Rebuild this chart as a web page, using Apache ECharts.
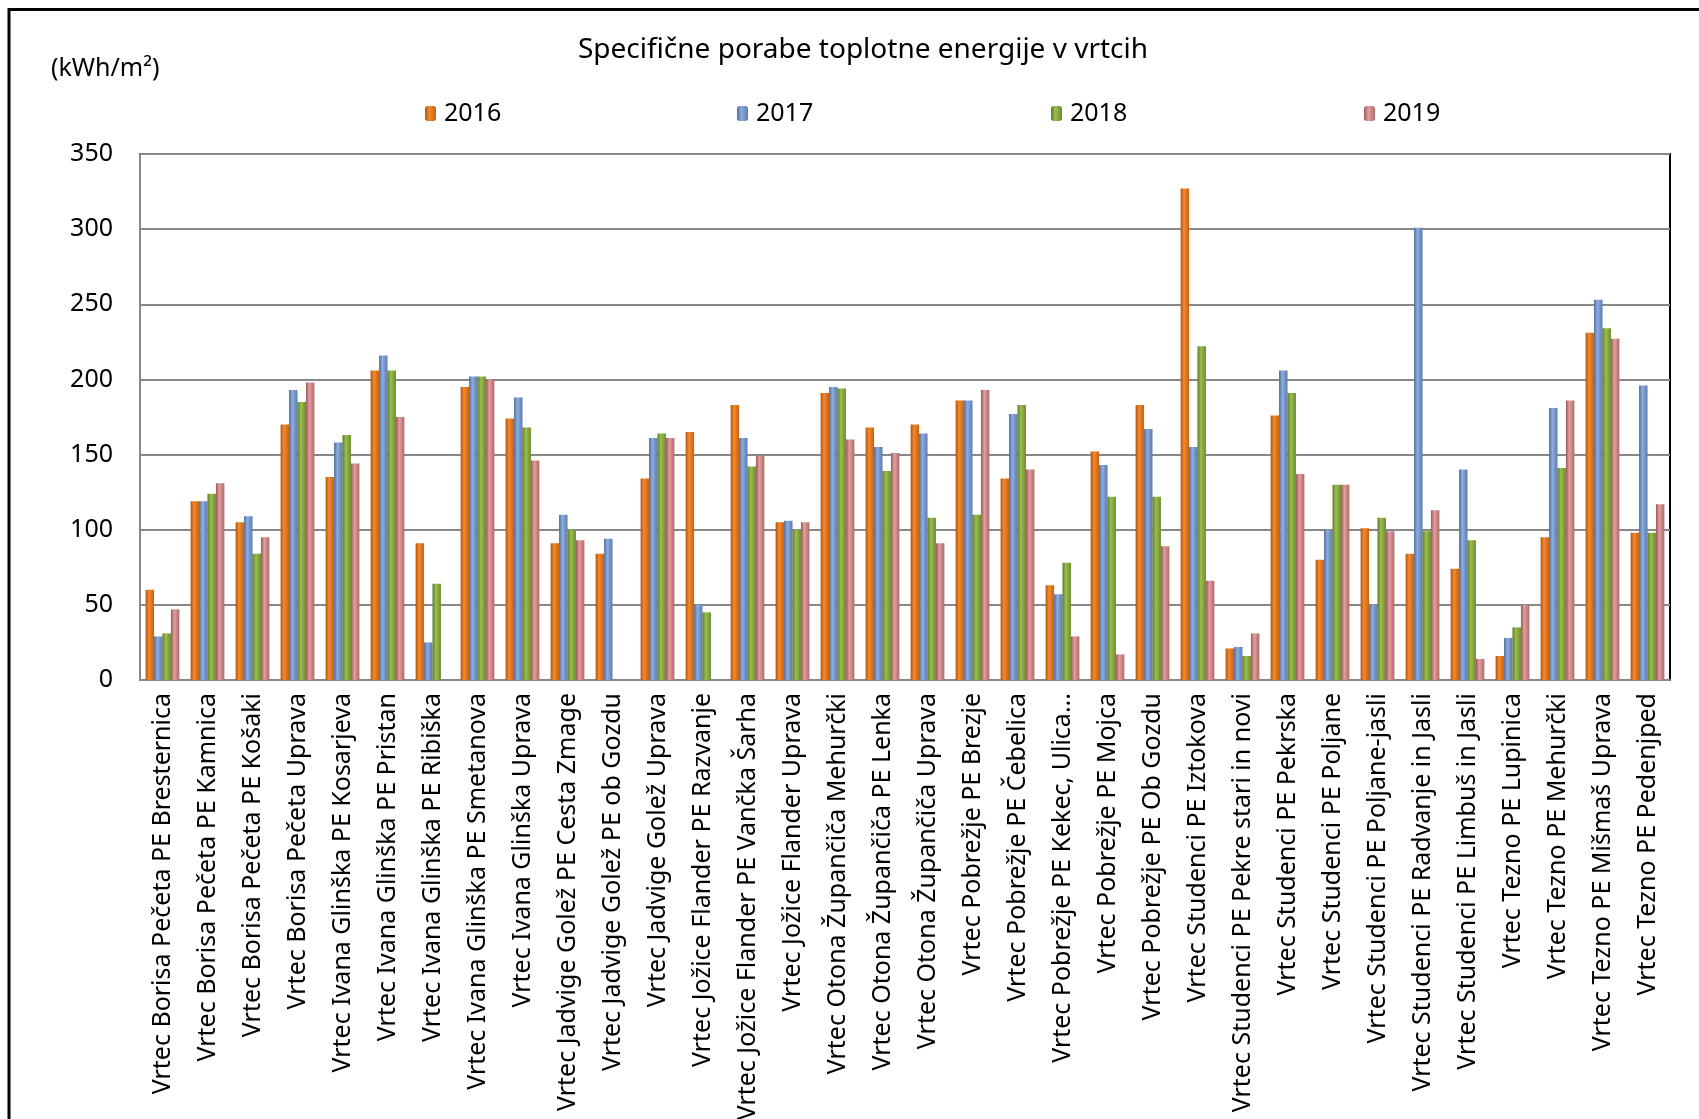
<!DOCTYPE html>
<html>
<head>
<meta charset="utf-8">
<script src="https://cdn.jsdelivr.net/npm/echarts@6/dist/echarts.min.js"></script>
<style>
html,body{margin:0;padding:0;background:#fff;}
#chart{width:1699px;height:1119px;}
</style>
</head>
<body>
<div id="chart"></div>
<script>
const categories = [
  "Vrtec Borisa Pečeta PE Bresternica",
  "Vrtec Borisa Pečeta PE Kamnica",
  "Vrtec Borisa Pečeta PE Košaki",
  "Vrtec Borisa Pečeta Uprava",
  "Vrtec Ivana Glinška PE Kosarjeva",
  "Vrtec Ivana Glinška PE Pristan",
  "Vrtec Ivana Glinška PE Ribiška",
  "Vrtec Ivana Glinška PE Smetanova",
  "Vrtec Ivana Glinška Uprava",
  "Vrtec Jadvige Golež PE Cesta Zmage",
  "Vrtec Jadvige Golež PE ob Gozdu",
  "Vrtec Jadvige Golež Uprava",
  "Vrtec Jožice Flander PE Razvanje",
  "Vrtec Jožice Flander PE Vančka Šarha",
  "Vrtec Jožice Flander Uprava",
  "Vrtec Otona Župančiča Mehurčki",
  "Vrtec Otona Župančiča PE Lenka",
  "Vrtec Otona Župančiča Uprava",
  "Vrtec Pobrežje PE Brezje",
  "Vrtec Pobrežje PE Čebelica",
  "Vrtec Pobrežje PE Kekec, Ulica...",
  "Vrtec Pobrežje PE Mojca",
  "Vrtec Pobrežje PE Ob Gozdu",
  "Vrtec Studenci PE Iztokova",
  "Vrtec Studenci PE Pekre stari in novi",
  "Vrtec Studenci PE Pekrska",
  "Vrtec Studenci PE Poljane",
  "Vrtec Studenci PE Poljane-jasli",
  "Vrtec Studenci PE Radvanje in Jasli",
  "Vrtec Studenci PE Limbuš in Jasli",
  "Vrtec Tezno PE Lupinica",
  "Vrtec Tezno PE Mehurčki",
  "Vrtec Tezno PE Mišmaš Uprava",
  "Vrtec Tezno PE Pedenjped"
];
const seriesNames = ["2016", "2017", "2018", "2019"];
const v2016 = [60,119,105,170,135,206,91,195,174,91,84,134,165,183,105,191,168,170,186,134,63,152,183,327,21,176,80,101,84,74,16,95,231,98];
const v2017 = [29,119,109,193,158,216,25,202,188,110,94,161,50,161,106,195,155,164,186,177,57,143,167,155,22,206,100,50,301,140,28,181,253,196];
const v2018 = [31,124,84,185,163,206,64,202,168,100,null,164,45,142,100,194,139,108,110,183,78,122,122,222,16,191,130,108,99,93,35,141,234,98];
const v2019 = [47,131,95,198,144,175,null,200,146,93,null,161,null,149,105,160,151,91,193,140,29,17,89,66,31,137,130,99,113,14,50,186,227,117];
const yTicks = { min: 0, max: 350, interval: 50 };
const titleText = "Specifične porabe toplotne energije v vrtcih";
const unitText = "(kWh/m²)";

const palette = [
  ["#B5520C", "#F28A2E", "#C9600F"],
  ["#4D6B9E", "#8FADDC", "#5A7AB0"],
  ["#5C7A22", "#9CBF50", "#6B8B2C"],
  ["#9C5656", "#E0A0A0", "#B26868"]
];
function grad(p) {
  return new echarts.graphic.LinearGradient(0, 0, 1, 0, [
    { offset: 0, color: p[0] },
    { offset: 0.4, color: p[1] },
    { offset: 1, color: p[2] }
  ]);
}
const allValues = [v2016, v2017, v2018, v2019];
const legendX = [425, 737, 1051, 1364];
const font = "Noto Sans";

const chart = echarts.init(document.getElementById('chart'), null, { renderer: 'canvas' });
chart.setOption({
  backgroundColor: '#ffffff',
  animation: false,
  textStyle: { fontFamily: font },
  title: {
    text: titleText,
    left: 858, top: 31, textAlign: 'center',
    textStyle: { fontFamily: font, fontSize: 28, fontWeight: 'normal', color: '#000' }
  },
  legend: seriesNames.map((n, i) => ({
    data: [n],
    left: legendX[i], top: 101, padding: 0,
    itemWidth: 11, itemHeight: 15, itemGap: 0,
    textStyle: { fontFamily: font, fontSize: 25, color: '#000', padding: [0, 0, 0, 3] }
  })),
  graphic: [
    {
      type: 'rect', silent: true, z: 100,
      shape: { x: 9, y: 9.5, width: 1760, height: 1200 },
      style: { fill: 'none', stroke: '#000', lineWidth: 3 }
    },
    {
      type: 'text', left: 51, top: 56, silent: true,
      style: { text: unitText, fontFamily: font, fontSize: 25, fill: '#000' }
    }
  ],
  grid: {
    left: 140, top: 154, width: 1530, height: 526,
    outerBoundsMode: 'none',
    show: true, borderColor: '#000', borderWidth: 2, backgroundColor: 'transparent',
    containLabel: false
  },
  xAxis: {
    type: 'category',
    data: categories,
    axisLine: { lineStyle: { color: '#888', width: 2 } },
    axisTick: { show: false },
    axisLabel: {
      rotate: 90, interval: 0, margin: 13,
      fontFamily: font, fontSize: 25, color: '#000'
    },
    splitLine: { show: false }
  },
  yAxis: {
    type: 'value',
    min: yTicks.min, max: yTicks.max, interval: yTicks.interval,
    axisLine: { show: true, lineStyle: { color: '#888', width: 2 } },
    axisTick: { show: false },
    axisLabel: { margin: 27, fontFamily: font, fontSize: 25, color: '#000' },
    splitLine: { lineStyle: { color: '#888', width: 2 } }
  },
  series: seriesNames.map((n, i) => ({
    name: n,
    type: 'bar',
    data: allValues[i],
    barGap: '0%',
    barCategoryGap: '25%',
    itemStyle: { color: grad(palette[i]) }
  }))
});
</script>
</body>
</html>
